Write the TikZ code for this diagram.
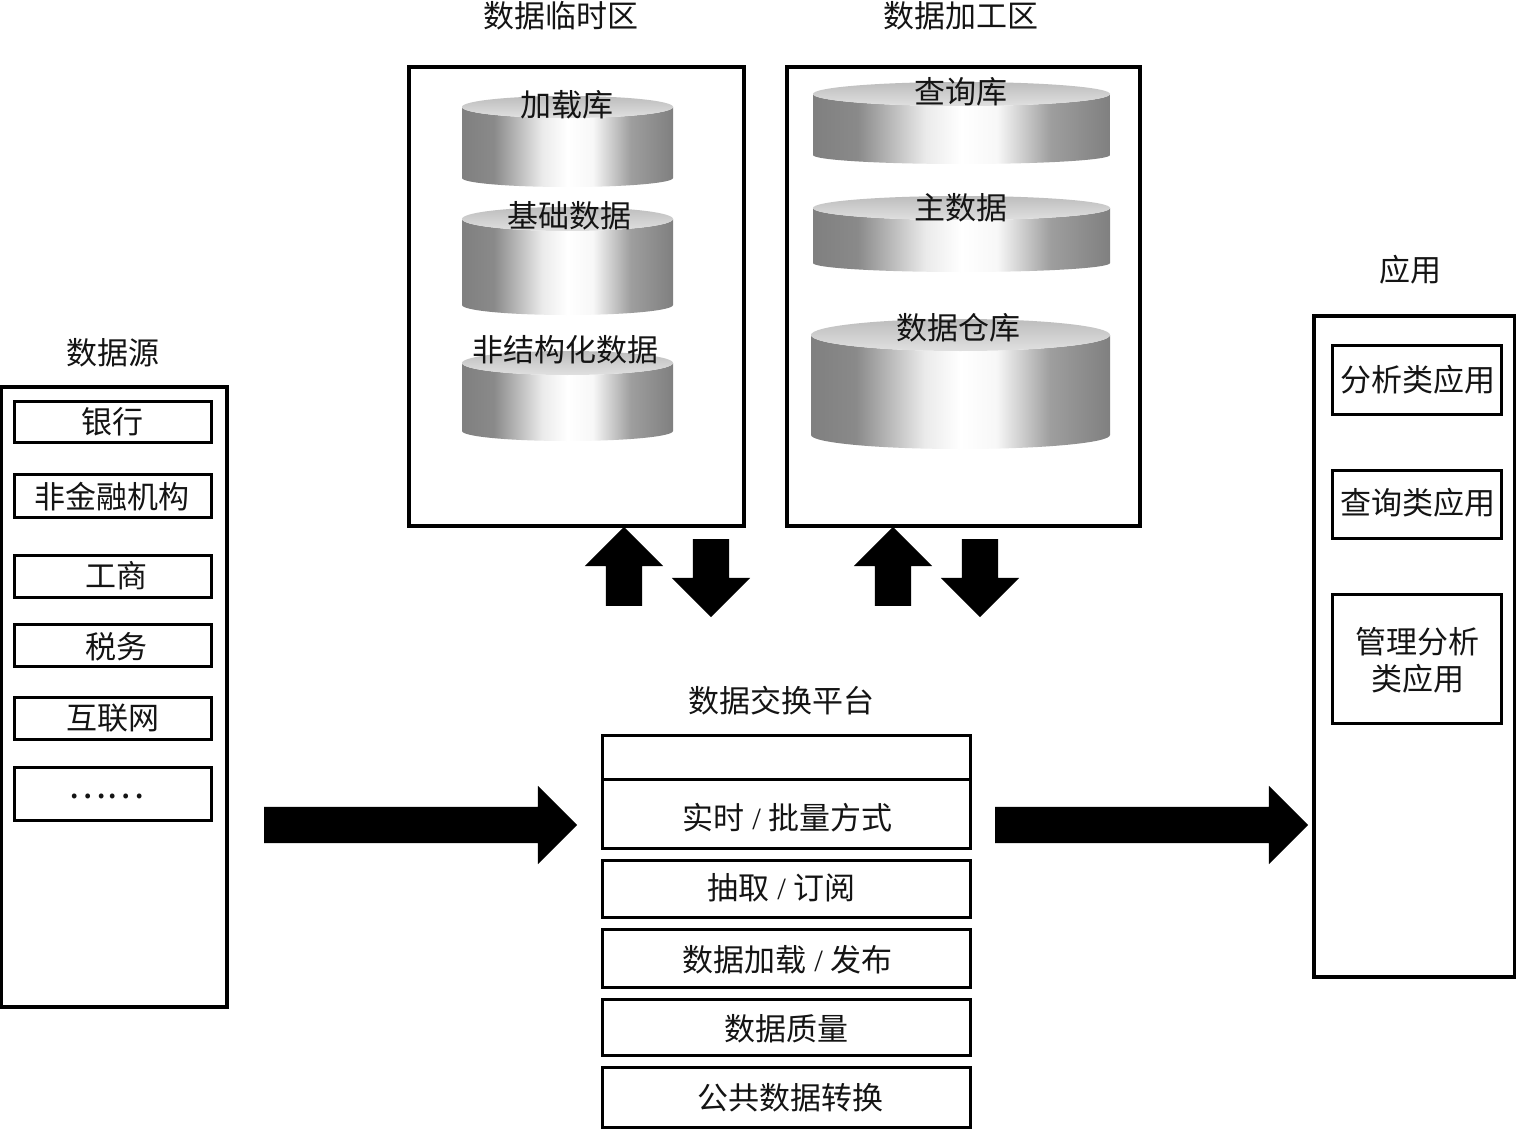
\documentclass[tikz,border=0pt]{standalone}
\usepackage{fontspec}
\setmainfont{Noto Sans CJK SC}
\newfontfamily\latinfont{Liberation Serif}
\usetikzlibrary{shapes.arrows}

% side shading of a drum: dark edges, wide bright band around the middle
\pgfdeclarehorizontalshading{drumside}{100bp}{
  color(0bp)=(black!50); color(25bp)=(black!50); color(32.5bp)=(black!46);
  color(44bp)=(black!8); color(50bp)=(black!0); color(56bp)=(black!3);
  color(65bp)=(black!38); color(75bp)=(black!50); color(100bp)=(black!50)}
% lid shading of a drum
\pgfdeclareverticalshading{drumlid}{100bp}{
  color(0bp)=(black!12); color(25bp)=(black!12); color(75bp)=(black!26); color(100bp)=(black!26)}

\tikzset{
  x=1pt, y=1pt,
  txt/.style={inner sep=0pt, outer sep=0pt, xshift=0.7pt, yshift=-0.3pt,
    font=\fontsize{31}{34}\selectfont, text=black!92, align=center},
  box/.style={draw=black, line width=3pt, fill=white, inner sep=0pt, outer sep=0pt},
  zone/.style={box, line width=3.2pt},
  bigarrow/.style={single arrow, fill=black, inner sep=18pt, outer sep=0pt,
    single arrow head indent=0pt, single arrow tip angle=90,
    minimum width=78pt, single arrow head extend=21pt},
}

% \boxnode{name}{x1}{y1}{x2}{y2}{style}: a rectangle given by its corners
\newcommand{\boxnode}[6]{%
  \pgfmathsetmacro{\bw}{#4-#2}\pgfmathsetmacro{\bh}{#5-#3}%
  \pgfmathsetmacro{\bx}{(#2+#4)/2}\pgfmathsetmacro{\by}{-(#3+#5)/2}%
  \node[#6, minimum width=\bw pt, minimum height=\bh pt] (#1) at (\bx,\by) {};}

% \drum{x1}{x2}{ytop}{ylidcentre}{ysidebottom}{ybottom}
\newcommand{\drum}[6]{%
  \pgfmathsetmacro{\rx}{(#2-#1)/2}\pgfmathsetmacro{\ryt}{#4-#3}\pgfmathsetmacro{\ryb}{#6-#5}%
  \path[shading=drumside] (#1,-#4) -- (#1,-#5)
    arc[start angle=180,end angle=360,x radius=\rx pt,y radius=\ryb pt] -- (#2,-#4)
    arc[start angle=0,end angle=-180,x radius=\rx pt,y radius=\ryt pt] -- cycle;
  \path[shading=drumlid] (#1,-#4)
    arc[start angle=180,end angle=-180,x radius=\rx pt,y radius=\ryt pt] -- cycle;}

\newcommand{\slashmark}{{\latinfont\ /\ }}

\begin{document}
\begin{tikzpicture}
\useasboundingbox[fill=white] (0,0) rectangle (1516,-1129);

% source column
\node[txt] (srctitle) at (112,-352) {数据源};
\boxnode{src}{1}{387}{227}{1007}{zone}
\boxnode{s1}{14}{401}{211}{442}{box}
\boxnode{s2}{14}{474}{211}{517}{box}
\boxnode{s3}{14}{555}{211}{597}{box}
\boxnode{s4}{14}{624}{211}{666}{box}
\boxnode{s5}{14}{697}{211}{739}{box}
\boxnode{s6}{14}{767}{211}{820}{box}
\node[txt] (s1t) at (112,-421) {银行};
\node[txt] (s2t) at (111,-496) {非金融机构};
\node[txt] (s3t) at (116,-575) {工商};
\node[txt] (s4t) at (116,-646) {税务};
\node[txt] (s5t) at (112,-718) {互联网};
\node[txt, font=\fontsize{36}{38}\selectfont] (s6t) at (106,-796) {……};

% temporary zone
\node[txt] (temptitle) at (560,-15) {数据临时区};
\boxnode{temp}{409}{67}{744}{526}{zone}
\drum{462}{673}{96}{107}{178}{187}
\drum{462}{673}{207}{219}{305}{315}
\drum{462}{673}{351}{363}{431}{441}
\node[txt] (t1) at (566,-104) {加载库};
\node[txt] (t2) at (569,-215) {基础数据};
\node[txt] (t3) at (565,-349) {非结构化数据};

% processing zone
\node[txt] (proctitle) at (960,-15) {数据加工区};
\boxnode{proc}{787}{67}{1140}{526}{zone}
\drum{813}{1110}{82}{94}{155}{164}
\drum{813}{1110}{196}{208}{263}{272}
\drum{811}{1110}{319}{335}{435}{449}
\node[txt] (p1) at (960,-91) {查询库};
\node[txt] (p2) at (960,-207) {主数据};
\node[txt] (p3) at (958,-327) {数据仓库};

% exchange platform
\node[txt] (extitle) at (781,-700) {数据交换平台};
\boxnode{e0}{602}{735}{970}{779}{box}
\boxnode{e1}{602}{779}{970}{848}{box}
\boxnode{e2}{602}{860}{970}{917}{box}
\boxnode{e3}{602}{929}{970}{987}{box}
\boxnode{e4}{602}{999}{970}{1055}{box}
\boxnode{e5}{602}{1067}{970}{1127}{box}
\node[txt] (e1t) at (787,-817) {实时\slashmark 批量方式};
\node[txt] (e2t) at (781,-887) {抽取\slashmark 订阅};
\node[txt] (e3t) at (787,-959) {数据加载\slashmark 发布};
\node[txt] (e4t) at (786,-1028) {数据质量};
\node[txt] (e5t) at (790,-1097) {公共数据转换};

% applications column
\node[txt] (apptitle) at (1410,-269) {应用};
\boxnode{app}{1314}{316}{1515}{977}{zone}
\boxnode{a1}{1332}{345}{1501}{414}{box}
\boxnode{a2}{1332}{470}{1501}{538}{box}
\boxnode{a3}{1332}{594}{1501}{723}{box}
\node[txt] (a1t) at (1417,-379) {分析类应用};
\node[txt] (a2t) at (1417,-502) {查询类应用};
\node[txt] (a3t) at (1417,-641) {管理分析};
\node[txt] (a3u) at (1417,-678) {类应用};

% block arrows between the zones
\node[bigarrow, minimum height=79pt, shape border rotate=90]  (u1) at (624,-575.5) {};
\node[bigarrow, minimum height=78pt, shape border rotate=270] (d1) at (711,-569) {};
\node[bigarrow, minimum height=79pt, shape border rotate=90]  (u2) at (893,-575.5) {};
\node[bigarrow, minimum height=78pt, shape border rotate=270] (d2) at (980,-569) {};
\node[bigarrow, minimum height=313pt] (r1) at (411.5,-825) {};
\node[bigarrow, minimum height=313pt] (r2) at (1142.5,-825) {};
\end{tikzpicture}
\end{document}
